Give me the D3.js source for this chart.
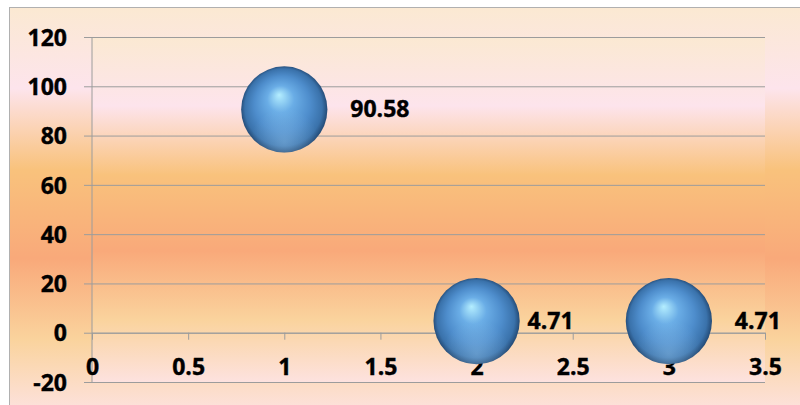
<!DOCTYPE html>
<html>
<head>
<meta charset="utf-8">
<script src="https://cdn.jsdelivr.net/npm/d3@7"></script>
<style>
	body { margin: 0; background: #fff; }
	svg { display: block; }
	text { font-family: 'Open Sans', Lato, sans-serif; font-weight: bold; fill: #000; stroke: #000; stroke-width: 0.4px; }
</style>
</head>
<body>
<div id="chart"></div>
<script>
'use strict';

// data
var xValues = [1, 2, 3];
var yValues = [90.58, 4.71, 4.71];
var bubbleSizes = [1, 1, 1];
var labels = ['90.58', '4.71', '4.71'];
var xTicks = [0, 0.5, 1, 1.5, 2, 2.5, 3, 3.5];
var yTicks = [-20, 0, 20, 40, 60, 80, 100, 120];

// label nudges to the right of each bubble centre (px)
var labelDx = [66, 51, 66];

var FONT = '23px';

var width = 800,
	height = 405,
	margin = {top: 37, right: 35, bottom: 23, left: 92},
	plotW = width - margin.left - margin.right,
	plotH = height - margin.top - margin.bottom;

var svg = d3.select('#chart').append('svg')
	.attr('width', width)
	.attr('height', height);

var defs = svg.append('defs');

var bg = defs.append('linearGradient')
	.attr('id', 'bg')
	.attr('x1', 0).attr('y1', 0).attr('x2', 0).attr('y2', 1);
[
	[0, '#fbe9d2'],
	[0.2, '#fde4ec'],
	[0.4, '#f9c27c'],
	[0.62, '#f9a97a'],
	[0.82, '#fad39d'],
	[1, '#fde2df']
].forEach(function(s) {
	bg.append('stop').attr('offset', s[0]).attr('stop-color', s[1]);
});

var ball = defs.append('radialGradient')
	.attr('id', 'ball')
	.attr('cx', '50%').attr('cy', '50%').attr('r', '52%')
	.attr('fx', '44%').attr('fy', '33%');
[
	[0, '#b4eeff'],
	[0.3, '#6aade6'],
	[0.62, '#4e8dcc'],
	[0.86, '#3a72ab'],
	[1, '#1d3f66']
].forEach(function(s) {
	ball.append('stop').attr('offset', s[0]).attr('stop-color', s[1]);
});

var shine = defs.append('radialGradient')
	.attr('id', 'shine')
	.attr('cx', '50%').attr('cy', '88%').attr('r', '40%');
shine.append('stop').attr('offset', 0).attr('stop-color', '#a8d6f7').attr('stop-opacity', 0.35);
shine.append('stop').attr('offset', 1).attr('stop-color', '#a8d6f7').attr('stop-opacity', 0);

// chart area
svg.append('rect')
	.attr('x', 9.5).attr('y', 7.5)
	.attr('width', width).attr('height', height)
	.attr('fill', 'url(#bg)')
	.attr('stroke', '#b0b0b0');

// plot area
svg.append('rect')
	.attr('x', margin.left).attr('y', margin.top)
	.attr('width', plotW).attr('height', plotH)
	.attr('fill', 'url(#bg)');

var x = d3.scaleLinear().domain([0, 3.5]).range([margin.left, margin.left + plotW]);
var y = d3.scaleLinear().domain([-20, 120]).range([margin.top + plotH, margin.top]);
var r = d3.scaleSqrt().domain([0, d3.max(bubbleSizes)])
	.range([0, 0.125 * Math.min(plotW, plotH)]);

// gridlines + y labels
var yAxis = svg.append('g')
	.attr('transform', 'translate(' + (margin.left + plotW) + ',0)')
	.call(d3.axisLeft(y).tickValues(yTicks).tickSize(plotW + 8).tickPadding(17)
		.tickFormat(function(d) { return String(d); }));
yAxis.select('.domain').remove();
yAxis.selectAll('line').attr('stroke', '#9c9c9c');
yAxis.selectAll('text').style('font-size', FONT).attr('dy', '0.36em');

// vertical axis line
svg.append('line')
	.attr('x1', x(0)).attr('x2', x(0))
	.attr('y1', margin.top).attr('y2', margin.top + plotH)
	.attr('stroke', '#9c9c9c');

// horizontal axis at y = 0
var xAxis = svg.append('g')
	.attr('transform', 'translate(0,' + y(0) + ')')
	.call(d3.axisBottom(x).tickValues(xTicks).tickSize(7).tickSizeOuter(0)
		.tickFormat(function(d) { return String(d); }));
xAxis.select('.domain').attr('stroke', '#9c9c9c');
xAxis.selectAll('line').attr('stroke', '#9c9c9c');
xAxis.selectAll('text')
	.style('font-size', FONT)
	.attr('dy', null)
	.attr('y', 42);

// bubbles
var pts = xValues.map(function(v, i) {
	return {x: v, y: yValues[i], size: bubbleSizes[i], label: labels[i], dx: labelDx[i]};
});

var bubbles = svg.append('g').selectAll('g')
	.data(pts)
	.enter()
	.append('g');

bubbles.append('circle')
	.attr('cx', function(d) { return x(d.x); })
	.attr('cy', function(d) { return y(d.y); })
	.attr('r', function(d) { return r(d.size); })
	.attr('fill', 'url(#ball)');

bubbles.append('circle')
	.attr('cx', function(d) { return x(d.x); })
	.attr('cy', function(d) { return y(d.y); })
	.attr('r', function(d) { return r(d.size); })
	.attr('fill', 'url(#shine)');

bubbles.append('text')
	.attr('x', function(d) { return x(d.x) + d.dx; })
	.attr('y', function(d) { return y(d.y) + 8; })
	.style('font-size', FONT)
	.text(function(d) { return d.label; });
</script>
</body>
</html>
